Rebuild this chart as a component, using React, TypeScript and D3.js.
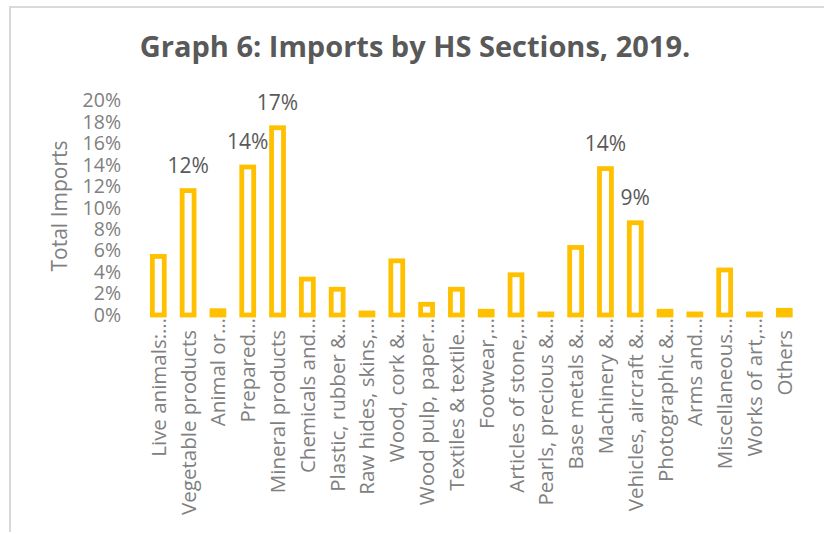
import React from 'react';
import * as d3 from 'd3';

const categories = [
  'Live animals:…', 'Vegetable products', 'Animal or…', 'Prepared…', 'Mineral products',
  'Chemicals and…', 'Plastic, rubber &…', 'Raw hides, skins,…', 'Wood, cork &…', 'Wood pulp, paper…',
  'Textiles & textile…', 'Footwear,…', 'Articles of stone,…', 'Pearls, precious &…', 'Base metals &…',
  'Machinery &…', 'Vehicles, aircraft &…', 'Photographic &…', 'Arms and…', 'Miscellaneous…',
  'Works of art,…', 'Others',
];
// share of total imports, %
const values = [
  5.46, 11.6, 0.4, 13.8, 17.46,
  3.35, 2.4, 0.19, 5.05, 1.0,
  2.4, 0.35, 3.75, 0.1, 6.3,
  13.65, 8.6, 0.35, 0.1, 4.2,
  0.1, 0.44,
];
const yTicks = [0, 2, 4, 6, 8, 10, 12, 14, 16, 18, 20];
const labelThreshold = 8;

const W = 824;
const H = 534;
const FONT = "'Open Sans', 'Noto Sans', sans-serif";

export default function App() {
  const x = d3.scaleBand<string>()
    .domain(categories)
    .range([143.4, 799.2])
    .paddingInner(0.6)
    .paddingOuter(0.3);
  const y = d3.scaleLinear().domain([0, 20]).range([315, 100.5]);
  const bw = x.bandwidth();

  return (
    <svg width={W} height={H} style={{ position: 'absolute', left: 0, top: 0, background: '#fff' }}>
      {/* chart frame */}
      <path d={`M10,532 V7 H${W}`} fill="none" stroke="#d9d9d9" strokeWidth={2} />

      <text x={415} y={57} textAnchor="middle" fontFamily={FONT} fontSize={29} fontWeight={700} fill="#595959">
        Graph 6: Imports by HS Sections, 2019.
      </text>

      <text transform="translate(67,206) rotate(-90)" textAnchor="middle" fontFamily={FONT} fontSize={21} fill="#808080">
        Total Imports
      </text>

      {yTicks.map((t) => (
        <text key={t} x={121} y={y(t)} dy="0.35em" textAnchor="end" fontFamily={FONT} fontSize={19.5} fill="#808080">
          {t}%
        </text>
      ))}

      {categories.map((c, i) => {
        const v = values[i];
        const cx = (x(c) as number) + bw / 2;
        return (
          <g key={c}>
            <rect x={x(c)} y={y(v)} width={bw} height={y(0) - y(v)} fill="#fff" stroke="#FFC000" strokeWidth={4.8} />
            {v >= labelThreshold && (
              <text x={cx} y={y(v) - 17.5} textAnchor="middle" fontFamily={FONT} fontSize={21} fill="#595959">
                {Math.round(v)}%
              </text>
            )}
            <text
              transform={`translate(${cx + 7.5},${c.endsWith('…') ? 318 : 330}) rotate(-90)`}
              textAnchor="end"
              fontFamily={FONT}
              fontSize={20.5}
              fill="#808080"
            >
              {c}
            </text>
          </g>
        );
      })}
    </svg>
  );
}
